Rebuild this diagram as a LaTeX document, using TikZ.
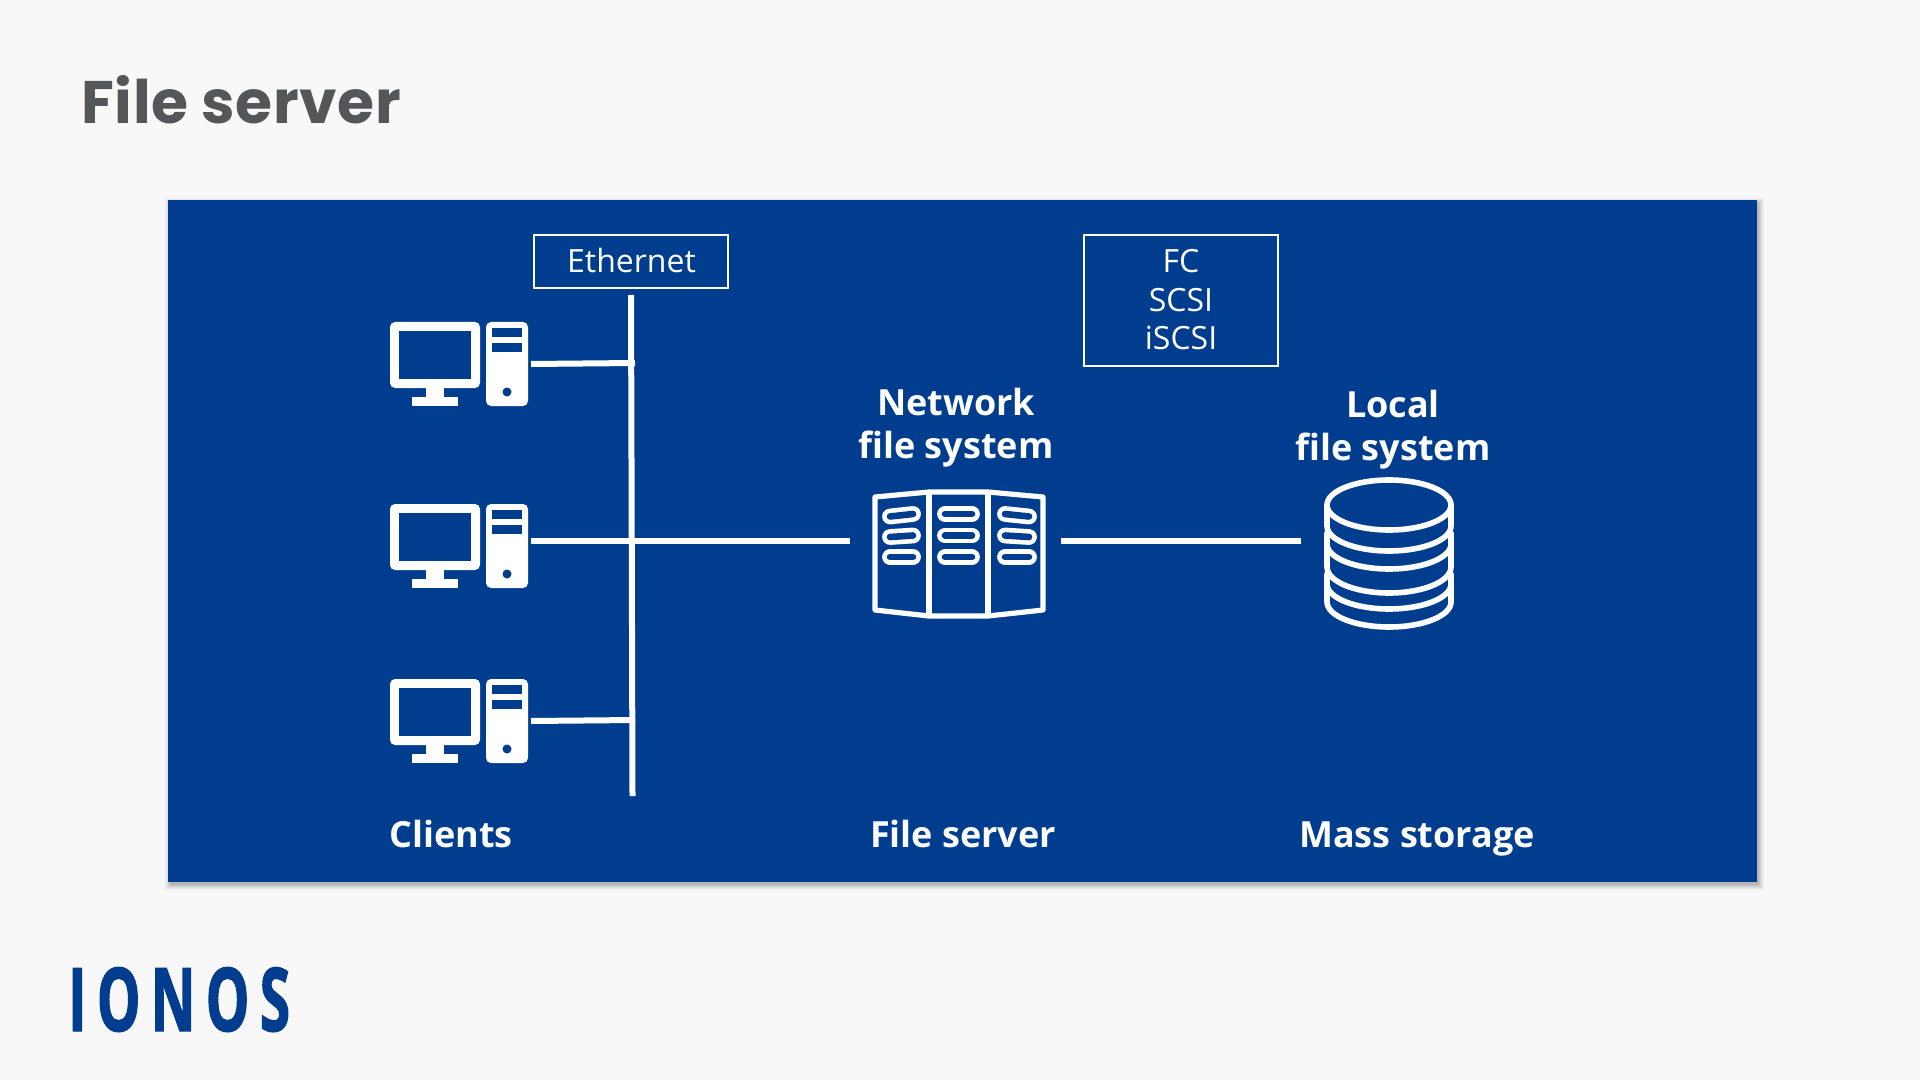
\documentclass[tikz,border=0pt]{standalone}
\usepackage{fontspec}
\setmainfont{Open Sans}
\newfontfamily\titlefont[LetterSpace=1]{Poppins}
\newfontfamily\logofont[FakeStretch=0.62,LetterSpace=12,FakeBold=1.5]{Open Sans}
\definecolor{pagebg}{HTML}{F8F8F8}
\definecolor{panelblue}{HTML}{003D8F}
\definecolor{titlegrey}{HTML}{54575A}
\tikzset{
  wire/.style={draw=white,line width=3pt},
  framebox/.style={draw=white,line width=1pt,inner sep=0pt},
  thinlabel/.style={text=white,font=\fontsize{16pt}{19.25pt}\selectfont,align=center,inner sep=0pt},
  boldlabel/.style={text=white,font=\fontsize{18pt}{21.5pt}\selectfont\bfseries,align=center,inner sep=0pt},
  iconline/.style={draw=white,line width=2.6pt,line join=round},
  pill/.style={draw=white,line width=2.3pt,double=panelblue,double distance=3.3pt,line cap=round},
  dbline/.style={draw=white,line width=2.8pt,line cap=round,line join=round},
  computer/.pic={
    \fill[white,rounded corners=2.5pt] (0,0) rectangle (90,66);
    \fill[panelblue] (9,9) rectangle (81,57);
    \fill[white] (36,66) rectangle (54,75);
    \fill[white] (22,75) rectangle (68,84);
    \fill[white,rounded corners=2.5pt] (96,0) rectangle (138,84);
    \fill[panelblue] (102,6) rectangle (132,15);
    \fill[panelblue] (102,21) rectangle (132,30);
    \fill[panelblue] (117,70) circle[radius=4.5];
  },
}
\begin{document}
\begin{tikzpicture}[x=0.5pt,y=-0.5pt]
\useasboundingbox (0,0) rectangle (1920,1080);
\fill[pagebg] (0,0) rectangle (1920,1080);
% panel shadow
\foreach \e/\o in {6/.015,5/.02,4/.03,3/.04,2/.05,1/.06,0/.07}
  \fill[black,opacity=\o] (170-\e,203-\e) rectangle (1759+\e,885+\e);
\fill[panelblue] (168,200) rectangle (1757,882);

\node[anchor=base west,inner sep=0pt,text=titlegrey,font=\fontsize{30pt}{36pt}\selectfont\titlefont\bfseries] (title) at (81,124) {File server};

% logo
\node[anchor=base west,inner sep=0pt,text=panelblue,font=\fontsize{44pt}{50pt}\selectfont\logofont\bfseries] (logo) at (68,1031) {IONOS};

% boxes
\node[framebox,minimum width=194pt/2,minimum height=53pt/2] (ethbox) at (631,261.5) {};
\node[thinlabel] (ethtext) at (631.5,261) {Ethernet};
\node[framebox,minimum width=194pt/2,minimum height=131pt/2] (fcbox) at (1181,300.5) {};
\node[thinlabel] (fctext) at (1181,300) {FC\\SCSI\\iSCSI};

% computers
\pic at (390,322) {computer};
\pic at (390,504) {computer};
\pic at (390,679) {computer};

% connector ends
\coordinate (bustop) at (631,295);
\coordinate (busbot) at (632.5,796);
\coordinate (c1) at (531,364);
\coordinate (b1) at (635,363);
\coordinate (c2) at (531,541);
\coordinate (s1) at (850,541);
\coordinate (c3) at (531,721);
\coordinate (b3) at (635,720);
\coordinate (s2) at (1061,541);
\coordinate (d1) at (1301,541);
\draw[wire] (bustop) -- (busbot);
\draw[wire] (c1) -- (b1);
\draw[wire] (c2) -- (s1);
\draw[wire] (c3) -- (b3);
\draw[wire] (s2) -- (d1);

% server icon
\draw[iconline] (875,497) -- (929,492) -- (988,492) -- (1043,497) -- (1043,610) -- (988,616) -- (929,616) -- (875,610) -- cycle;
\draw[iconline] (929,492) -- (929,616);
\draw[iconline] (988,492) -- (988,616);
\draw[pill] (890,516.5) -- (913,514);
\draw[pill] (890,537) -- (913,535.5);
\draw[pill] (890,557) -- (913,557);
\draw[pill] (945,514) -- (972,514);
\draw[pill] (945,535.5) -- (972,535.5);
\draw[pill] (945,557) -- (972,557);
\draw[pill] (1005,514) -- (1029,516.5);
\draw[pill] (1005,535.5) -- (1029,537);
\draw[pill] (1005,557) -- (1029,557);

% database icon
\draw[dbline] (1389,505) ellipse[x radius=62,y radius=25];
\draw[dbline] (1327,505) -- (1327,526) arc[start angle=180,end angle=0,x radius=62,y radius=25] -- (1451,505);
\draw[dbline] (1327,533) -- (1327,567) arc[start angle=180,end angle=0,x radius=62,y radius=26] -- (1451,533);
\draw[dbline] (1327,544) arc[start angle=180,end angle=0,x radius=62,y radius=25];
\draw[dbline] (1327,574) -- (1327,602) arc[start angle=180,end angle=0,x radius=62,y radius=25] -- (1451,574);
\draw[dbline] (1327,584) arc[start angle=180,end angle=0,x radius=62,y radius=25];

% labels
\node[boldlabel] (nfs) at (956,428) {Network\\file system};
\node[boldlabel] (lfs) at (1393,430) {Local\\file system};
\node[boldlabel,anchor=base] (clients) at (451,847) {Clients};
\node[boldlabel,anchor=base] (fileserver) at (963,847) {File server};
\node[boldlabel,anchor=base] (mass) at (1417,847) {Mass storage};
\end{tikzpicture}
\end{document}
